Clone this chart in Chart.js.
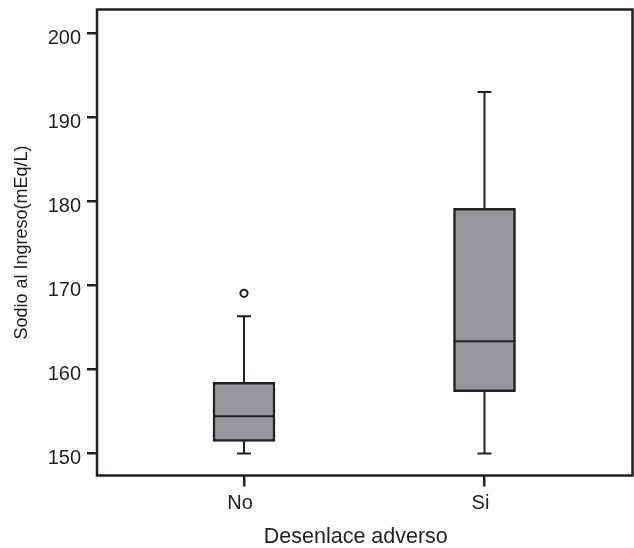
<!DOCTYPE html>
<html>
<head>
<meta charset="utf-8">
<script src="https://cdn.jsdelivr.net/npm/chart.js@4.4.1/dist/chart.umd.min.js"></script>
<style>
  body { margin: 0; background: #fff; }
  #wrap { width: 634px; height: 548px; position: relative; }
</style>
</head>
<body>
<div id="wrap"><canvas id="Chart"></canvas></div>
<script>
// valores
const categories = ["No", "Si"];
const mins = [150.0, 150.0];
const q1s = [151.45, 157.36];
const medians = [154.43, 163.36];
const q3s = [158.48, 179.19];
const maxs = [166.33, 193.04];
const outliers = [[169.07], []];
const yTicks = [150, 160, 170, 180, 190, 200];

const ink = "#231f20";
const boxGray = "#96979b";
const fontFam = "'Liberation Sans', Arial, Helvetica, sans-serif";

// cajas (barras flotantes q1-q3)
const boxData = categories.map((c, i) => ({ x: i, y: [q1s[i], q3s[i]] }));

// bigotes: tramos verticales con huecos
let whiskerData = [];
categories.forEach((c, i) => {
  whiskerData.push({ x: i, y: q3s[i] }, { x: i, y: maxs[i] }, { x: i, y: null });
  whiskerData.push({ x: i, y: q1s[i] }, { x: i, y: mins[i] }, { x: i, y: null });
});

const capData = [];
categories.forEach((c, i) => {
  capData.push({ x: i, y: maxs[i] }, { x: i, y: mins[i] });
});
const medianData = categories.map((c, i) => ({ x: i, y: medians[i] }));
const outlierData = outliers.flatMap((arr, i) => arr.map((v) => ({ x: i, y: v })));

//marco alrededor del area del grafico
const framePlugin = {
  id: "frame",
  afterDraw(chart) {
    const a = chart.chartArea;
    const ctx = chart.ctx;
    ctx.save();
    ctx.strokeStyle = ink;
    ctx.lineWidth = 2.5;
    ctx.strokeRect(a.left, a.top, a.right - a.left, a.bottom - a.top);
    ctx.restore();
  },
};

// sin relleno extra de las escalas, el area la fija layout.padding
const noScalePadding = (s) => {
  s.paddingTop = 0;
  s.paddingBottom = 0;
  s.paddingLeft = 0;
  s.paddingRight = 0;
};

const ctx = document.getElementById("Chart").getContext("2d");
new Chart(ctx, {
  type: "bar",
  data: {
    datasets: [
      {
        type: "scatter",
        data: medianData,
        pointStyle: "line",
        pointRadius: 31,
        borderColor: ink,
        borderWidth: 2,
        order: 1,
      },
      {
        type: "scatter",
        data: capData,
        pointStyle: "line",
        pointRadius: 7,
        borderColor: ink,
        borderWidth: 2,
        order: 1,
      },
      {
        type: "scatter",
        data: outlierData,
        pointStyle: "circle",
        pointRadius: 3.6,
        backgroundColor: "#fff",
        borderColor: ink,
        borderWidth: 2,
        order: 1,
      },
      {
        type: "line",
        data: whiskerData,
        borderColor: ink,
        borderWidth: 2,
        pointRadius: 0,
        spanGaps: false,
        order: 2,
      },
      {
        type: "bar",
        data: boxData,
        backgroundColor: boxGray,
        borderColor: ink,
        borderWidth: 2.5,
        borderSkipped: false,
        barThickness: 62,
        order: 3,
      },
    ],
  },
  options: {
    responsive: true,
    maintainAspectRatio: false,
    animation: false,
    layout: { autoPadding: false, padding: { left: 0, top: 9.5, right: 1.5, bottom: 0 } },
    plugins: {
      legend: { display: false },
      tooltip: { enabled: false },
    },
    scales: {
      x: {
        type: "linear",
        min: -0.6112,
        max: 1.6154,
        offset: false,
        afterBuildTicks: (s) => {
          s.ticks = categories.map((c, i) => ({ value: i }));
        },
        afterFit: (s) => {
          s.height = 72.5;
          noScalePadding(s);
        },
        grid: {
          display: true,
          offset: false,
          drawOnChartArea: false,
          drawTicks: true,
          tickLength: 11,
          color: ink,
          lineWidth: 2.5,
        },
        border: { display: false },
        ticks: {
          padding: 5,
          labelOffset: -4,
          color: ink,
          font: { family: fontFam, size: 20 },
          callback: (v) => categories[v],
        },
        title: {
          display: true,
          text: "Desenlace adverso\u00a0\u00a0\u00a0",
          color: ink,
          font: { family: fontFam, size: 21.5, lineHeight: 1 },
          padding: { top: 0, bottom: 0 },
        },
      },
      y: {
        type: "linear",
        min: 147.38,
        max: 202.86,
        beginAtZero: false,
        afterBuildTicks: (s) => {
          s.ticks = yTicks.map((v) => ({ value: v }));
        },
        afterFit: (s) => {
          s.width = 97;
          noScalePadding(s);
        },
        grid: {
          display: true,
          drawOnChartArea: false,
          drawTicks: true,
          tickLength: 10,
          color: ink,
          lineWidth: 2.5,
        },
        border: { display: false },
        ticks: {
          padding: 6,
          labelOffset: 5,
          color: ink,
          font: { family: fontFam, size: 20 },
          callback: (v) => String(v),
        },
        title: {
          display: true,
          text: "Sodio al Ingreso(mEq/L)",
          color: ink,
          font: { family: fontFam, size: 18 },
          padding: { top: 11, bottom: 0 },
        },
      },
    },
  },
  plugins: [framePlugin],
});
</script>
</body>
</html>
